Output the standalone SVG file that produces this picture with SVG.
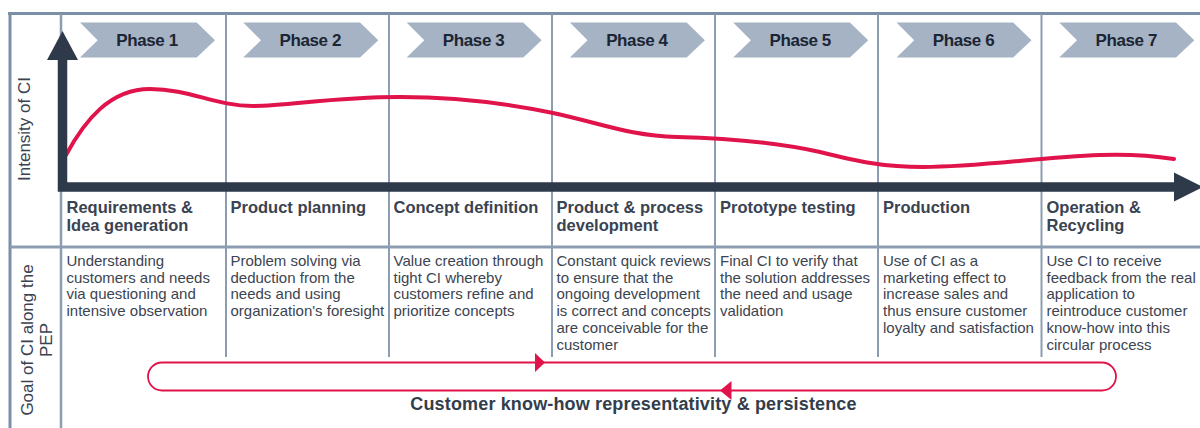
<svg xmlns="http://www.w3.org/2000/svg" width="1200" height="428" viewBox="0 0 1200 428">
  <defs>
    <style>
      .grid { stroke: #8d9db1; stroke-width: 2; fill: none; }
      .frame { stroke: #7b8fa7; stroke-width: 3; fill: none; }
      .axis { stroke: #2e3a4a; stroke-width: 9.5; fill: none; stroke-linejoin: miter; }
      .axis-head { fill: #2e3a4a; }
      .curve { stroke: #e0134b; stroke-width: 4; fill: none; stroke-linecap: round; }
      .chevron { fill: #a5b3c4; }
      .phase { font-family: "Liberation Sans", Arial, sans-serif; font-size: 17px; font-weight: bold; fill: #1c2533; text-anchor: middle; letter-spacing: -0.4px; }
      .side { font-family: "Liberation Sans", Arial, sans-serif; font-size: 17px; fill: #3a4250; text-anchor: middle; }
      .head { font-family: "Liberation Sans", Arial, sans-serif; font-size: 16.5px; font-weight: bold; fill: #3a4352; }
      .body { font-family: "Liberation Sans", Arial, sans-serif; font-size: 15px; fill: #3c4450; }
      .loop { stroke: #e0134b; stroke-width: 1.8; fill: none; }
      .loop-head { fill: #e0134b; }
      .caption { font-family: "Liberation Sans", Arial, sans-serif; font-size: 18px; font-weight: bold; fill: #333d4b; text-anchor: middle; letter-spacing: 0.15px; }
    </style>
    <polygon id="chev" points="0,0 116.7,0 135,17.7 116.7,35 0,35 17.7,17.7"/>
  </defs>

  <!-- frame and table grid -->
  <g id="grid">
    <line class="frame" x1="8" y1="13.5" x2="1200" y2="13.5"/>
    <line class="frame" x1="10" y1="12" x2="10" y2="428"/>
    <line class="grid" x1="10" y1="247" x2="1200" y2="247" style="stroke-width:3"/>
    <line class="grid" x1="61" y1="14" x2="61" y2="428" style="stroke-width:2.5"/>
    <line class="grid" x1="226" y1="14" x2="226" y2="357"/>
    <line class="grid" x1="389" y1="14" x2="389" y2="357"/>
    <line class="grid" x1="552" y1="14" x2="552" y2="357"/>
    <line class="grid" x1="715" y1="14" x2="715" y2="357"/>
    <line class="grid" x1="878" y1="14" x2="878" y2="357"/>
    <line class="grid" x1="1041.5" y1="14" x2="1041.5" y2="357"/>
  </g>

  <!-- row labels -->
  <g id="row-labels">
    <text class="side" transform="translate(30,129) rotate(-90)">Intensity of CI</text>
    <text class="side" transform="translate(33,340) rotate(-90)">Goal of CI along the</text>
    <text class="side" transform="translate(52,340) rotate(-90)">PEP</text>
  </g>

  <!-- intensity curve -->
  <g id="curve">
    <path class="curve" d="M 66 155 C 85 120, 110 89, 150 89 C 190 89, 215 106, 253 106 C 290 106, 330 97, 400 97 C 460 97, 510 104, 553 113 C 600 123, 630 136, 677 137 C 720 138, 770 141, 820 152 C 860 162, 885 167, 923 167 C 980 167, 1040 157, 1100 155 C 1130 154, 1155 156, 1174 159"/>
  </g>

  <!-- axes -->
  <g id="axes">
    <path class="axis" d="M 62.5 58 V 187 H 1176"/>
    <polygon class="axis-head" points="62.5,31 47,60 78,60"/>
    <polygon class="axis-head" points="1203,187 1174,172.5 1174,201.5"/>
  </g>

  <!-- phase chevrons -->
  <g id="phase-1"><use href="#chev" class="chevron" x="80" y="22.5"/><text class="phase" x="147" y="46">Phase 1</text></g>
  <g id="phase-2"><use href="#chev" class="chevron" x="243.3" y="22.5"/><text class="phase" x="310.3" y="46">Phase 2</text></g>
  <g id="phase-3"><use href="#chev" class="chevron" x="406.6" y="22.5"/><text class="phase" x="473.6" y="46">Phase 3</text></g>
  <g id="phase-4"><use href="#chev" class="chevron" x="569.9" y="22.5"/><text class="phase" x="636.9" y="46">Phase 4</text></g>
  <g id="phase-5"><use href="#chev" class="chevron" x="733.2" y="22.5"/><text class="phase" x="800.2" y="46">Phase 5</text></g>
  <g id="phase-6"><use href="#chev" class="chevron" x="896.5" y="22.5"/><text class="phase" x="963.5" y="46">Phase 6</text></g>
  <g id="phase-7"><use href="#chev" class="chevron" x="1059.3" y="22.5"/><text class="phase" x="1126.3" y="46">Phase 7</text></g>

  <!-- stage columns -->
  <g id="stage-1">
    <text class="head" x="66.5" y="212.5">Requirements &amp;<tspan x="66.5" y="230.5">Idea generation</tspan></text>
    <text class="body" x="66.5" y="266">Understanding<tspan x="66.5" y="282.7">customers and needs</tspan><tspan x="66.5" y="299.4">via questioning and</tspan><tspan x="66.5" y="316.1">intensive observation</tspan></text>
  </g>
  <g id="stage-2">
    <text class="head" x="230.5" y="212.5">Product planning</text>
    <text class="body" x="230.5" y="266">Problem solving via<tspan x="230.5" y="282.7">deduction from the</tspan><tspan x="230.5" y="299.4">needs and using</tspan><tspan x="230.5" y="316.1">organization's foresight</tspan></text>
  </g>
  <g id="stage-3">
    <text class="head" x="393.5" y="212.5">Concept definition</text>
    <text class="body" x="393.5" y="266">Value creation through<tspan x="393.5" y="282.7">tight CI whereby</tspan><tspan x="393.5" y="299.4">customers refine and</tspan><tspan x="393.5" y="316.1">prioritize concepts</tspan></text>
  </g>
  <g id="stage-4">
    <text class="head" x="556.5" y="212.5">Product &amp; process<tspan x="556.5" y="230.5">development</tspan></text>
    <text class="body" x="556.5" y="266">Constant quick reviews<tspan x="556.5" y="282.7">to ensure that the</tspan><tspan x="556.5" y="299.4">ongoing development</tspan><tspan x="556.5" y="316.1">is correct and concepts</tspan><tspan x="556.5" y="332.8">are conceivable for the</tspan><tspan x="556.5" y="349.5">customer</tspan></text>
  </g>
  <g id="stage-5">
    <text class="head" x="720" y="212.5">Prototype testing</text>
    <text class="body" x="720" y="266">Final CI to verify that<tspan x="720" y="282.7">the solution addresses</tspan><tspan x="720" y="299.4">the need and usage</tspan><tspan x="720" y="316.1">validation</tspan></text>
  </g>
  <g id="stage-6">
    <text class="head" x="883" y="212.5">Production</text>
    <text class="body" x="883" y="266">Use of CI as a<tspan x="883" y="282.7">marketing effect to</tspan><tspan x="883" y="299.4">increase sales and</tspan><tspan x="883" y="316.1">thus ensure customer</tspan><tspan x="883" y="332.8">loyalty and satisfaction</tspan></text>
  </g>
  <g id="stage-7">
    <text class="head" x="1046.5" y="212.5">Operation &amp;<tspan x="1046.5" y="230.5">Recycling</tspan></text>
    <text class="body" x="1046.5" y="266">Use CI to receive<tspan x="1046.5" y="282.7">feedback from the real</tspan><tspan x="1046.5" y="299.4">application to</tspan><tspan x="1046.5" y="316.1">reintroduce customer</tspan><tspan x="1046.5" y="332.8">know-how into this</tspan><tspan x="1046.5" y="349.5">circular process</tspan></text>
  </g>

  <!-- circular know-how loop -->
  <g id="connectors">
    <rect class="loop" x="148" y="362.5" width="968" height="28" rx="14" ry="14"/>
    <polygon class="loop-head" points="545,362.5 535,353 535,372"/>
    <polygon class="loop-head" points="720,390.5 731.5,381 731.5,400"/>
  </g>
  <text class="caption" x="633.5" y="410">Customer know-how representativity &amp; persistence</text>
</svg>
